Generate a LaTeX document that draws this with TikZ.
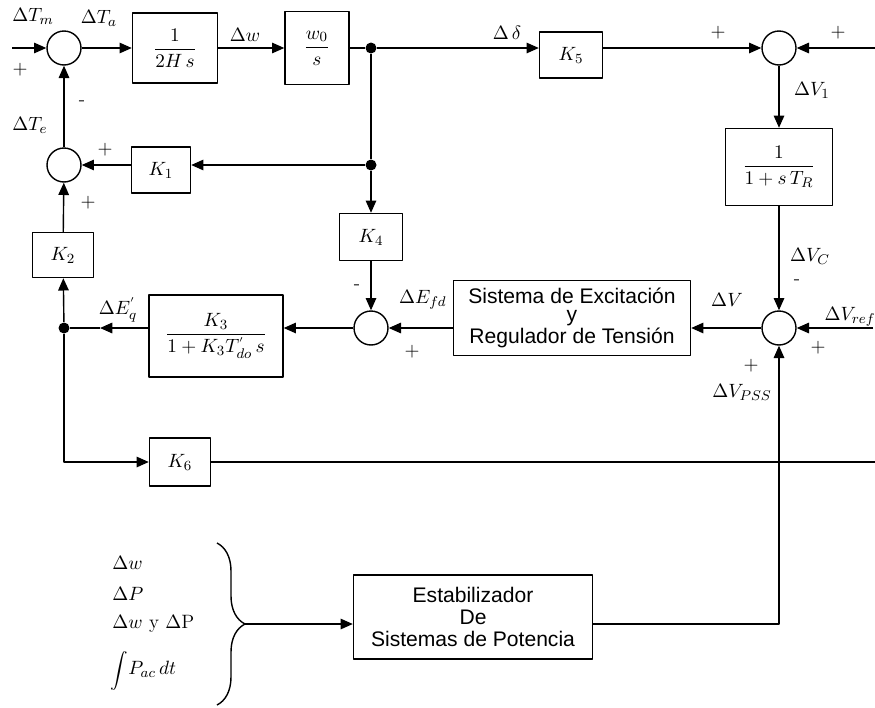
\documentclass[tikz,border=0pt]{standalone}
\usepackage{fontspec}
\newfontfamily\boxfont{Liberation Sans}
\usetikzlibrary{arrows.meta, decorations.pathreplacing}
\begin{document}
\begin{tikzpicture}[x=0.02cm, y=-0.02cm, line width=0.8pt, line join=round,
        >={Stealth[length=7pt, width=6pt, inset=0pt]}, font=\fontsize{11}{13}\selectfont,
        block/.style 2 args={draw, rectangle, inner sep=2pt, minimum width=#1, minimum height=#2},
        txt/.style={align=center, font=\boxfont\fontsize{12}{10.5}\selectfont},
        sumnode/.style={draw, circle, minimum size=0.68cm, inner sep=0pt},
        dot/.style={fill, circle, minimum size=0.22cm, inner sep=0pt},
        lbl/.style={inner sep=1pt}]
        \useasboundingbox (0,0) rectangle (875,707);
        % bloques
        \node[sumnode] (s1) at (64,48) {};
        \node[block={1.7cm}{1.4cm}] (g1) at (175,48) {$\displaystyle\frac{1}{2H\,s}$};
        \node[block={1.28cm}{1.46cm}] (g2) at (317,48) {$\displaystyle\frac{w_0}{s}$};
        \node[dot] (d1) at (371,48) {};
        \node[block={1.26cm}{0.92cm}] (k5) at (571,55) {$K_5$};
        \node[sumnode] (s2) at (779,48) {};
        \node[block={2.14cm}{1.54cm}] (gr) at (779,167) {$\displaystyle\frac{1}{1+s\,T_R}$};
        \node[sumnode] (s3) at (779,328) {};
        \node[block={4.74cm}{1.5cm}, txt] (exc) at (572,318) {Sistema de Excitación\\y\\Regulador de Tensión};
        \node[sumnode] (s4) at (371,328) {};
        \node[block={1.26cm}{0.94cm}] (k4) at (371,237) {$K_4$};
        \node[dot] (d2) at (371,165) {};
        \node[block={1.18cm}{0.92cm}] (k1) at (161,170) {$K_1$};
        \node[sumnode] (s5) at (64,165) {};
        \node[block={1.22cm}{0.9cm}] (k2) at (63,255) {$K_2$};
        \node[dot] (d3) at (64,328) {};
        \node[block={2.68cm}{1.64cm}] (k3) at (216,336) {$\displaystyle\frac{K_3}{1+K_3T_{do}^{'}\,s}$};
        \node[block={1.22cm}{0.96cm}] (k6) at (180,462) {$K_6$};
        \node[block={4.78cm}{1.68cm}, txt, font=\boxfont\fontsize{12}{12.5}\selectfont] (pss) at (473,617) {Estabilizador\\De\\Sistemas de Potencia};
        \coordinate (tm) at (12,48);
        \coordinate (inR) at (875,48);
        \coordinate (vref) at (873,328);
        \coordinate (outR) at (875,462);
        \coordinate (eq) at (100,328);
        \coordinate (bt) at (245,624);
        % conexiones
        \draw[->] (tm) -- (s1.west);
        \draw[->] (s1) -- (g1);
        \draw[->] (g1) -- (g2);
        \draw (g2) -- (d1);
        \draw[->] (d1) -- (d1 -| k5.west);
        \draw[->] (s2 -| k5.east) -- (s2.west);
        \draw[->] (inR) -- (s2.east);
        \draw[->] (s2) -- (gr);
        \draw[->] (gr) -- (s3);
        \draw[->] (vref) -- (s3.east);
        \draw[->] (s3.west) -- (s3.west -| exc.east);
        \draw[->] (exc.west |- s4) -- (s4.east);
        \draw (d1) -- (d2);
        \draw[->] (d2) -- (k4);
        \draw[->] (k4) -- (s4);
        \draw[->] (d2) -- (d2 -| k1.east);
        \draw[->] (k1.west |- s5) -- (s5.east);
        \draw[->] (s5) -- (s1);
        \draw[->] (k2) -- (s5);
        \draw[->] (d3) -- (k2);
        \draw[->] (s4.west) -- (s4.west -| k3.east);
        \draw[->] (d3 -| k3.west) -- (eq);
        \draw (eq) -- (d3);
        \draw[->] (d3) |- (k6.west);
        \draw (k6.east) -- (outR);
        \draw[->] (pss.east |- bt) -| (s3.south);
        \draw[decorate, decoration={brace, amplitude=0.56cm}] (217,543) -- (217,705);
        \draw[->] (bt) -- (pss.west |- bt);
        % etiquetas
        \node[lbl] at (33,16) {$\Delta T_m$};
        \node[lbl] at (20,70) {$+$};
        \node[lbl] at (99,18) {$\Delta T_a$};
        \node[lbl] at (82,103) {-};
        \node[lbl] at (30,125) {$\Delta T_e$};
        \node[lbl] at (105,150) {$+$};
        \node[lbl] at (88,203) {$+$};
        \node[lbl] at (245,35) {$\Delta w$};
        \node[lbl] at (507,33) {$\Delta\,\delta$};
        \node[lbl] at (718,33) {$+$};
        \node[lbl] at (838,33) {$+$};
        \node[lbl] at (812,90) {$\Delta V_1$};
        \node[lbl] at (810,256) {$\Delta V_C$};
        \node[lbl] at (797,282) {-};
        \node[lbl] at (727,300) {$\Delta V$};
        \node[lbl] at (850,317) {$\Delta V_{ref}$};
        \node[lbl] at (818,348) {$+$};
        \node[lbl] at (751,366) {$+$};
        \node[lbl] at (742,392) {$\Delta V_{PSS}$};
        \node[lbl, anchor=east] at (449,300) {$\Delta E_{fd}$};
        \node[lbl] at (412,352) {$+$};
        \node[lbl] at (357,287) {-};
        \node[lbl] at (118,310) {$\Delta E_q^{'}$};
        \node[lbl, anchor=west] at (110,563) {$\Delta w$};
        \node[lbl, anchor=west] at (110,594) {$\Delta P$};
        \node[lbl, anchor=west] at (110,624) {$\Delta w$ y $\Delta$P};
        \node[lbl, inner sep=0pt, anchor=west] at (110,671) {{\fontsize{8.5}{10}\selectfont$\displaystyle\int$}$P_{ac}\,dt$};
    \end{tikzpicture}
\end{document}
